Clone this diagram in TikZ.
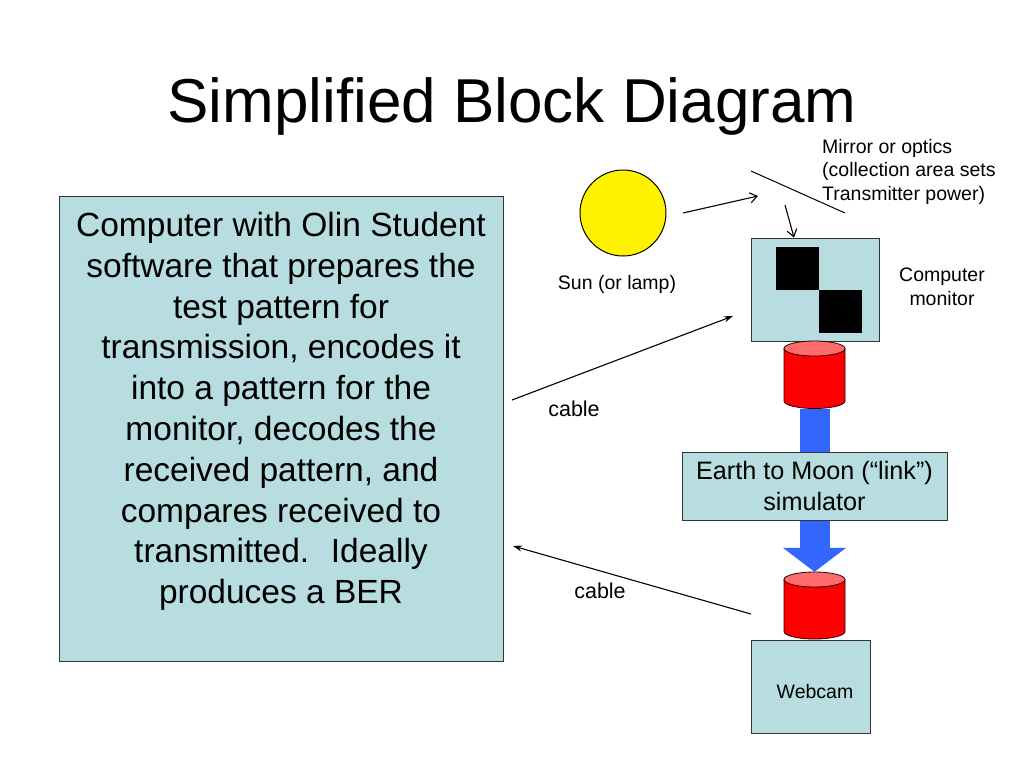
\documentclass[tikz,border=0pt]{standalone}
\usepackage{fontspec}
\setmainfont{Liberation Sans}
\usetikzlibrary{arrows.meta}
\definecolor{boxblue}{HTML}{B7DDE0}
\definecolor{cylred}{HTML}{FF0000}
\definecolor{cyltop}{HTML}{FF6B6B}
\definecolor{flowblue}{HTML}{3366FF}
\newcommand{\mycyl}[3]{%
  \filldraw[fill=cylred, draw=black!85!red, line width=0.8pt]
    (#1-30.5,#2) -- (#1-30.5,#3)
    arc[start angle=180, end angle=360, x radius=30.5pt, y radius=7.5pt]
    -- (#1+30.5,#2) -- cycle;
  \filldraw[fill=cyltop, draw=black!85!red, line width=0.8pt]
    (#1,#2) ellipse[x radius=30.5pt, y radius=7.5pt];}
\begin{document}
\begin{tikzpicture}[x=1pt, y=-1pt,
  bluebox/.style={draw=black!80, fill=boxblue, line width=0.9pt, inner sep=0pt},
  lbl/.style={font=\fontsize{19.5}{23.5}\selectfont, inner sep=0pt},
  cablelbl/.style={font=\fontsize{21.5}{26}\selectfont, inner sep=0pt},
  openarr/.style={line width=1.1pt, -{Straight Barb[length=7pt, width=10pt]}},
  cablearr/.style={line width=1.1pt, -{Stealth[length=9pt, width=6pt]}}]
\useasboundingbox[fill=white] (0,0) rectangle (1024,768);

% title
\node[anchor=base, font=\fontsize{62}{70}\selectfont, inner sep=0pt] (title) at (512,122) {Simplified Block Diagram};

% main computer box
\node[bluebox, minimum width=444pt, minimum height=465pt] (mainbox) at (281,428.5) {};
\node[anchor=north, align=center, font=\fontsize{33.5}{40.8}\selectfont, inner sep=0pt] (maintext) at (281,212)
  {Computer with Olin Student\\software that prepares the\\test pattern for\\transmission, encodes it\\into a pattern for the\\monitor, decodes the\\received pattern, and\\compares received to\\transmitted.~ Ideally\\produces a BER};

% sun
\node[circle, draw=black, fill=yellow, line width=1pt, minimum size=86pt, inner sep=0pt] (sun) at (623,213) {};
\node[lbl, anchor=base] (sunlbl) at (617,289) {Sun (or lamp)};

% mirror
\node[lbl, anchor=north west, align=left] (mirrorlbl) at (822,139) {Mirror or optics\\(collection area sets\\Transmitter power)};
\coordinate (m1) at (751,171);
\coordinate (m2) at (845,213);
\draw[line width=1pt] (m1) -- (m2);

% monitor
\node[bluebox, minimum width=128pt, minimum height=103pt] (monitor) at (815,289.5) {};
\node[fill=black, minimum size=43pt, inner sep=0pt] (sqa) at (797.5,268.5) {};
\node[fill=black, minimum size=43pt, inner sep=0pt] (sqb) at (840.5,311.5) {};
\node[lbl, anchor=north, align=center] (monlbl) at (942,268) {Computer\\monitor};

% cylinders (placeholders for names)
\node[minimum width=61pt, minimum height=68pt, inner sep=0pt] (cyl1) at (814.5,375) {};
\node[minimum width=61pt, minimum height=67pt, inner sep=0pt] (cyl2) at (814.5,605.5) {};

% blue flow arrow
\draw[flowblue, line width=30pt, -{Triangle[length=24pt, width=62pt]}] (cyl1.south) -- (cyl2.north);

% link simulator
\node[bluebox, minimum width=265pt, minimum height=68pt, align=center, font=\fontsize{25.2}{31}\selectfont] (link) at (814.5,486) {Earth to Moon (“link”)\\simulator};

% webcam
\node[bluebox, minimum width=119pt, minimum height=93pt] (webcam) at (810.5,686.5) {};
\node[lbl, anchor=base] (webcamlbl) at (815,698) {Webcam};

% cylinders drawn
\mycyl{814.5}{348.5}{401}
\mycyl{814.5}{579.5}{631.5}

% sun and mirror arrows
\coordinate (sunout) at (683,213);
\coordinate (mirrorin) at (758,196);
\draw[openarr] (sunout) -- (mirrorin);
\coordinate (mirrorout) at (785,205);
\draw[openarr] (mirrorout) -- ([xshift=-21pt]monitor.north);

% cables
\coordinate (c1s) at (512,400);
\coordinate (c1e) at (733,316);
\draw[cablearr] (c1s) -- (c1e);
\node[cablelbl, anchor=base] (cable1) at (574,416) {cable};
\coordinate (c2s) at (751,614);
\coordinate (c2e) at (513,546);
\draw[cablearr] (c2s) -- (c2e);
\node[cablelbl, anchor=base] (cable2) at (600,598) {cable};
\end{tikzpicture}
\end{document}
